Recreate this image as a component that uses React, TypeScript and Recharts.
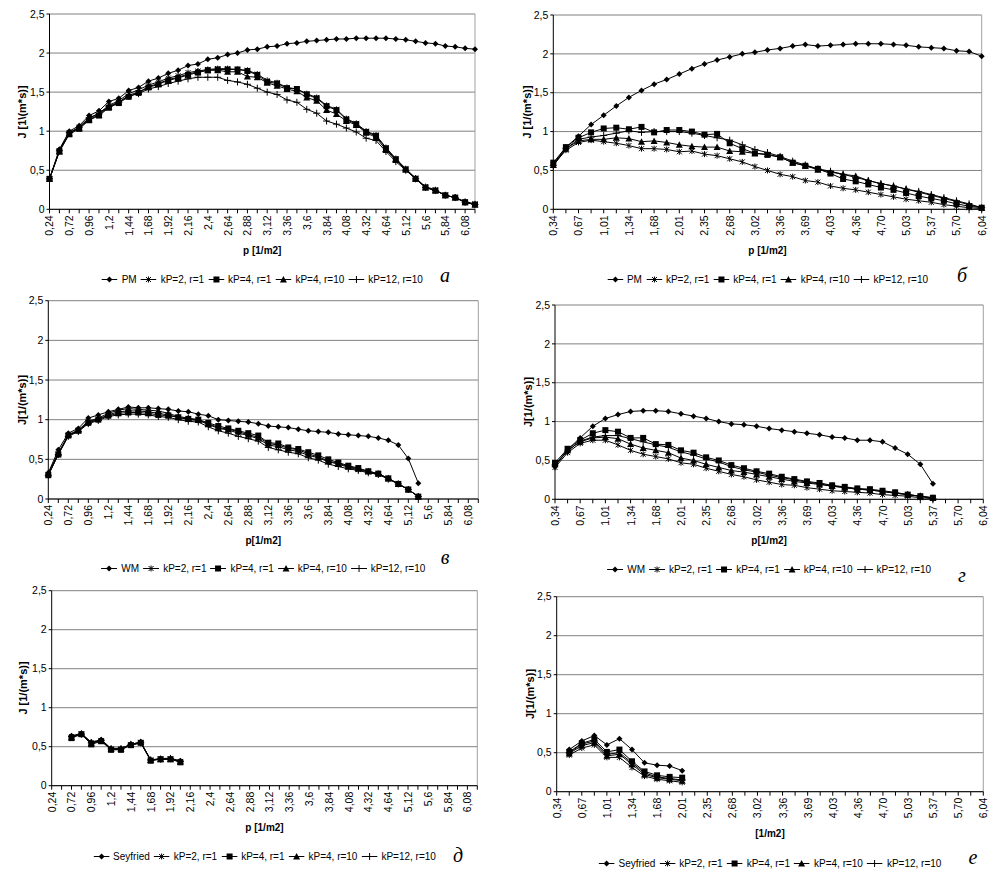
import React from "react";
import { LineChart, Line, XAxis, YAxis, CartesianGrid, ReferenceLine } from "recharts";

// category labels (every second category is unlabeled, as in the source)
const ticksWide = ["0,24","","0,72","","0,96","","1,2","","1,44","","1,68","","1,92","","2,16","","2,4","","2,64","","2,88","","3,12","","3,36","","3,6","","3,84","","4,08","","4,32","","4,64","","5,12","","5,6","","5,84","","6,08",""];
const ticksNarrow = ["0,34","","0,67","","1,01","","1,34","","1,68","","2,01","","2,35","","2,68","","3,02","","3,36","","3,69","","4,03","","4,36","","4,70","","5,03","","5,37","","5,70","","6,04"];
const yTicks = [0, 0.5, 1, 1.5, 2, 2.5];

const kpNames = ["kP=2, r=1", "kP=4, r=1", "kP=4, r=10", "kP=12, r=10"];

// а — PM
const pmA = [0.39,0.77,1.0,1.07,1.2,1.26,1.38,1.42,1.52,1.56,1.64,1.68,1.74,1.78,1.84,1.86,1.92,1.94,1.98,2.0,2.04,2.05,2.08,2.09,2.12,2.13,2.15,2.16,2.17,2.18,2.18,2.19,2.19,2.19,2.19,2.18,2.17,2.15,2.13,2.12,2.09,2.08,2.06,2.05];
const k2r1A = [0.39,0.75,0.98,1.05,1.17,1.23,1.33,1.39,1.48,1.53,1.59,1.63,1.68,1.71,1.75,1.77,1.79,1.8,1.8,1.79,1.78,1.73,1.65,1.62,1.56,1.54,1.48,1.43,1.33,1.28,1.16,1.1,1.0,0.95,0.79,0.65,0.52,0.4,0.29,0.25,0.18,0.15,0.1,0.07];
const k4r1A = [0.39,0.74,0.96,1.03,1.14,1.2,1.3,1.36,1.44,1.49,1.56,1.6,1.65,1.68,1.72,1.75,1.78,1.79,1.79,1.79,1.77,1.72,1.63,1.61,1.55,1.54,1.47,1.42,1.32,1.27,1.15,1.09,0.99,0.94,0.78,0.64,0.51,0.39,0.28,0.24,0.18,0.15,0.09,0.06];
const k4r10A = [0.39,0.74,0.97,1.04,1.15,1.21,1.31,1.37,1.46,1.5,1.57,1.61,1.66,1.69,1.73,1.76,1.78,1.78,1.76,1.76,1.7,1.69,1.62,1.58,1.54,1.51,1.43,1.39,1.27,1.22,1.13,1.08,0.98,0.92,0.76,0.63,0.51,0.39,0.28,0.24,0.18,0.15,0.09,0.06];
const k12r10A = [0.39,0.75,0.98,1.05,1.17,1.22,1.32,1.37,1.45,1.48,1.54,1.57,1.61,1.64,1.67,1.69,1.69,1.69,1.65,1.63,1.6,1.55,1.5,1.47,1.4,1.37,1.28,1.23,1.13,1.09,1.04,0.99,0.91,0.88,0.74,0.61,0.5,0.39,0.28,0.24,0.18,0.15,0.09,0.06];

// б — PM
const pmB = [0.58,0.8,0.94,1.09,1.21,1.33,1.44,1.53,1.61,1.67,1.74,1.81,1.87,1.92,1.96,2.0,2.02,2.05,2.07,2.1,2.12,2.1,2.11,2.12,2.13,2.13,2.13,2.12,2.11,2.09,2.08,2.07,2.04,2.03,1.97];
const k2r1B = [0.57,0.76,0.86,0.89,0.87,0.85,0.82,0.78,0.78,0.77,0.74,0.75,0.71,0.69,0.65,0.61,0.55,0.5,0.45,0.42,0.37,0.35,0.3,0.27,0.25,0.22,0.19,0.16,0.13,0.11,0.09,0.06,0.04,0.02,0.01];
const k4r1B = [0.6,0.8,0.92,0.99,1.04,1.05,1.03,1.06,0.99,1.02,1.02,1.0,0.96,0.97,0.85,0.78,0.72,0.7,0.67,0.6,0.56,0.52,0.46,0.39,0.36,0.32,0.28,0.25,0.21,0.17,0.14,0.11,0.07,0.04,0.02];
const k4r10B = [0.57,0.78,0.88,0.9,0.9,0.92,0.91,0.87,0.88,0.86,0.83,0.81,0.8,0.8,0.75,0.74,0.72,0.71,0.67,0.6,0.56,0.51,0.48,0.45,0.43,0.37,0.33,0.3,0.26,0.22,0.18,0.14,0.1,0.06,0.02];
const k12r10B = [0.56,0.78,0.9,0.93,0.95,0.98,1.01,0.99,1.0,1.0,1.0,0.98,0.95,0.92,0.89,0.83,0.77,0.73,0.68,0.62,0.57,0.52,0.49,0.45,0.41,0.37,0.33,0.3,0.26,0.23,0.19,0.15,0.11,0.07,0.02];

// в — WM
const wmC = [0.33,0.62,0.83,0.89,1.02,1.06,1.1,1.13,1.16,1.15,1.15,1.14,1.13,1.11,1.1,1.07,1.05,1.0,0.99,0.98,0.97,0.95,0.92,0.91,0.9,0.88,0.86,0.85,0.84,0.82,0.81,0.8,0.79,0.77,0.74,0.68,0.51,0.2];
const k2r1C = [0.31,0.57,0.8,0.86,0.97,1.01,1.06,1.1,1.11,1.11,1.1,1.08,1.06,1.03,1.0,0.99,0.94,0.89,0.87,0.83,0.8,0.76,0.68,0.66,0.62,0.6,0.55,0.52,0.47,0.44,0.4,0.37,0.34,0.31,0.26,0.19,0.12,0.03];
const k4r1C = [0.3,0.56,0.8,0.86,0.96,1.0,1.05,1.08,1.09,1.09,1.08,1.06,1.05,1.03,1.01,1.0,0.96,0.92,0.89,0.86,0.83,0.8,0.71,0.7,0.65,0.63,0.59,0.55,0.5,0.46,0.42,0.39,0.35,0.32,0.26,0.19,0.12,0.03];
const k4r10C = [0.32,0.58,0.81,0.87,0.98,1.02,1.08,1.12,1.14,1.13,1.12,1.11,1.08,1.04,1.02,1.0,0.95,0.9,0.88,0.85,0.81,0.78,0.7,0.68,0.64,0.62,0.57,0.53,0.48,0.45,0.41,0.38,0.35,0.32,0.26,0.19,0.12,0.03];
const k12r10C = [0.3,0.56,0.79,0.85,0.95,0.99,1.04,1.06,1.07,1.07,1.06,1.04,1.03,1.0,0.98,0.97,0.91,0.86,0.83,0.79,0.76,0.73,0.65,0.62,0.59,0.57,0.52,0.49,0.44,0.41,0.38,0.36,0.33,0.31,0.25,0.19,0.12,0.03];

// г — WM
const wmD = [0.42,0.64,0.79,0.94,1.04,1.09,1.13,1.14,1.14,1.13,1.1,1.07,1.04,1.0,0.97,0.96,0.94,0.91,0.89,0.87,0.85,0.83,0.8,0.79,0.76,0.76,0.74,0.66,0.58,0.45,0.2];
const k2r1D = [0.41,0.6,0.72,0.76,0.76,0.7,0.63,0.58,0.55,0.52,0.47,0.45,0.4,0.36,0.32,0.29,0.25,0.22,0.19,0.18,0.15,0.13,0.11,0.1,0.09,0.08,0.06,0.05,0.04,0.02,0.01];
const k4r1D = [0.47,0.65,0.76,0.85,0.89,0.87,0.79,0.79,0.71,0.7,0.63,0.6,0.54,0.5,0.44,0.4,0.36,0.33,0.29,0.26,0.23,0.21,0.18,0.16,0.14,0.13,0.11,0.09,0.06,0.04,0.02];
const k4r10D = [0.45,0.63,0.74,0.79,0.8,0.78,0.71,0.66,0.63,0.6,0.53,0.5,0.45,0.41,0.37,0.35,0.32,0.29,0.26,0.23,0.21,0.19,0.17,0.15,0.13,0.12,0.1,0.08,0.06,0.04,0.02];
const k12r10D = [0.44,0.62,0.75,0.8,0.82,0.82,0.78,0.74,0.7,0.67,0.61,0.57,0.52,0.48,0.42,0.38,0.35,0.31,0.28,0.25,0.22,0.2,0.17,0.15,0.13,0.12,0.1,0.08,0.06,0.04,0.01];

// д — Seyfried
const seyE = [null,null,0.64,0.67,0.56,0.59,0.48,0.48,0.53,0.56,0.33,0.35,0.35,0.32];
const k2r1E = [null,null,0.63,0.66,0.55,0.58,0.47,0.47,0.52,0.55,0.33,0.34,0.34,0.31];
const k4r1E = [null,null,0.61,0.66,0.53,0.57,0.46,0.46,0.52,0.55,0.32,0.34,0.34,0.3];
const k4r10E = [null,null,0.62,0.67,0.54,0.58,0.47,0.47,0.53,0.56,0.33,0.34,0.34,0.31];
const k12r10E = [null,null,0.63,0.66,0.55,0.58,0.47,0.47,0.53,0.55,0.33,0.34,0.35,0.31];

// е — Seyfried
const seyF = [null,0.54,0.65,0.72,0.6,0.68,0.54,0.37,0.34,0.33,0.27];
const k2r1F = [null,0.47,0.56,0.6,0.44,0.44,0.31,0.2,0.16,0.14,0.12];
const k4r1F = [null,0.51,0.62,0.67,0.51,0.54,0.39,0.26,0.21,0.19,0.18];
const k4r10F = [null,0.49,0.59,0.63,0.46,0.48,0.35,0.22,0.18,0.16,0.14];
const k12r10F = [null,0.5,0.61,0.65,0.48,0.5,0.37,0.24,0.19,0.17,0.15];

const markerKinds = ["diamond", "asterisk", "square", "triangle", "plus"];

function marker(kind: string, cx: number, cy: number, key?: string) {
  switch (kind) {
    case "diamond":
      return <polygon key={key} points={`${cx},${cy - 3} ${cx + 3},${cy} ${cx},${cy + 3} ${cx - 3},${cy}`} fill="#000" />;
    case "asterisk":
      return (
        <g key={key} stroke="#000" strokeWidth={1}>
          <line x1={cx - 2.5} y1={cy - 2.5} x2={cx + 2.5} y2={cy + 2.5} />
          <line x1={cx - 2.5} y1={cy + 2.5} x2={cx + 2.5} y2={cy - 2.5} />
          <line x1={cx} y1={cy - 3} x2={cx} y2={cy + 3} />
        </g>
      );
    case "square":
      return <rect key={key} x={cx - 3} y={cy - 3} width={6} height={6} fill="#000" />;
    case "triangle":
      return <polygon key={key} points={`${cx},${cy - 3.5} ${cx + 3.5},${cy + 3} ${cx - 3.5},${cy + 3}`} fill="#000" />;
    default:
      return (
        <g key={key} stroke="#000" strokeWidth={1}>
          <line x1={cx - 3.5} y1={cy} x2={cx + 3.5} y2={cy} />
          <line x1={cx} y1={cy - 3.5} x2={cx} y2={cy + 3.5} />
        </g>
      );
  }
}

const panels = [
  { id: "a", names: ["PM", ...kpNames], series: [pmA, k2r1A, k4r1A, k4r10A, k12r10A], ticks: ticksWide, yTitle: "J [1\\(m*s)]", xTitle: "p [1/m2]", caption: "а", x0: 0, y0: 0, plot: [49.5, 14, 475, 209.3], yTitleX: 22, legendY: 279, cap: [445, 275] },
  { id: "b", names: ["PM", ...kpNames], series: [pmB, k2r1B, k4r1B, k4r10B, k12r10B], ticks: ticksNarrow, yTitle: "J [1/(m*s)]", xTitle: "p [1/m2]", caption: "б", x0: 500, y0: 0, plot: [553.3, 15, 981.7, 209.3], yTitleX: 527, legendY: 279, cap: [962, 275] },
  { id: "c", names: ["WM", ...kpNames], series: [wmC, k2r1C, k4r1C, k4r10C, k12r10C], ticks: ticksWide, yTitle: "J[1/(m*s)]", xTitle: "p[1/m2]", caption: "в", x0: 0, y0: 290, plot: [48.3, 300.7, 478.3, 499], yTitleX: 22, legendY: 568, cap: [445, 557] },
  { id: "d", names: ["WM", ...kpNames], series: [wmD, k2r1D, k4r1D, k4r10D, k12r10D], ticks: ticksNarrow, yTitle: "J[1/(m*s)]", xTitle: "p[1/m2]", caption: "г", x0: 500, y0: 290, plot: [555, 305, 983.3, 499.3], yTitleX: 528, legendY: 569, cap: [962, 575] },
  { id: "e", names: ["Seyfried", ...kpNames], series: [seyE, k2r1E, k4r1E, k4r10E, k12r10E], ticks: ticksWide, yTitle: "J [1/(m*s)]", xTitle: "p [1/m2]", caption: "д", x0: 0, y0: 580, plot: [51.7, 590.7, 477.3, 785.7], yTitleX: 23, legendY: 856, cap: [458, 855] },
  { id: "f", names: ["Seyfried", ...kpNames], series: [seyF, k2r1F, k4r1F, k4r10F, k12r10F], ticks: ticksNarrow, yTitle: "J[1/(m*s)]", xTitle: "[1/m2]", caption: "е", x0: 500, y0: 580, plot: [556.7, 596.7, 983.3, 791.7], yTitleX: 530, legendY: 863, cap: [973, 857] },
];

const Y_W = 40;
const X_H = 40;
const CH_H = 262;

function XTick(props: any) {
  const { x, y, payload, labels } = props;
  const text = labels[payload.value];
  if (!text) return <g />;
  return (
    <text x={x} y={y} transform={`rotate(-90 ${x} ${y})`} textAnchor="end" dominantBaseline="central" fontSize={10.5} fill="#000">
      {text}
    </text>
  );
}

function Panel({ p }: { p: (typeof panels)[number] }) {
  const [l, t, r, b] = p.plot;
  const w = p.x0 === 0 ? 500 : 503;
  const margin = { top: t - p.y0, left: l - p.x0 - Y_W, right: p.x0 + w - r, bottom: p.y0 + CH_H - b - X_H };
  const data = p.ticks.map((_, i) => {
    const row: any = { i };
    p.series.forEach((s, k) => {
      row[`s${k}`] = s[i] ?? null;
    });
    return row;
  });
  const cx = (l + r) / 2;
  const cy = (t + b) / 2;

  return (
    <>
      <div style={{ position: "absolute", left: p.x0, top: p.y0 }}>
        <LineChart width={w} height={CH_H} data={data} margin={margin}>
          <CartesianGrid vertical={false} stroke="#808080" />
          <ReferenceLine x={p.ticks.length - 1} stroke="#a0a0a0" />
          <XAxis
            dataKey="i"
            type="category"
            interval={0}
            height={X_H}
            tickSize={4}
            tickMargin={2}
            axisLine={{ stroke: "#000" }}
            tickLine={{ stroke: "#000" }}
            tick={(tp: any) => <XTick {...tp} labels={p.ticks} />}
          />
          <YAxis
            type="number"
            domain={[0, 2.5]}
            ticks={yTicks}
            width={Y_W}
            tickSize={3}
            tickMargin={2}
            axisLine={{ stroke: "#000" }}
            tickLine={{ stroke: "#000" }}
            tick={{ fontSize: 10.5, fill: "#000" }}
            tickFormatter={(v: number) => String(v).replace(".", ",")}
          />
          {p.series.map((_, k) => (
            <Line
              key={k}
              dataKey={`s${k}`}
              stroke="#000"
              strokeWidth={1}
              connectNulls={false}
              isAnimationActive={false}
              activeDot={false}
              dot={(dp: any) =>
                dp.cx == null || dp.cy == null || dp.value == null
                  ? <g key={`${k}-${dp.index}`} />
                  : marker(markerKinds[k], dp.cx, dp.cy, `${k}-${dp.index}`)
              }
            />
          ))}
        </LineChart>
      </div>

      {/* axis titles */}
      <div style={{ position: "absolute", left: p.yTitleX, top: cy, transform: "translate(-50%, -50%) rotate(-90deg)", fontSize: 11, fontWeight: "bold", whiteSpace: "nowrap" }}>
        {p.yTitle}
      </div>
      <div style={{ position: "absolute", left: cx, top: b + 41, transform: "translate(-50%, -50%)", fontSize: 10, fontWeight: "bold", whiteSpace: "nowrap" }}>
        {p.xTitle}
      </div>

      {/* legend */}
      <div style={{ position: "absolute", left: cx, top: p.legendY, transform: "translate(-50%, -50%)", display: "flex", alignItems: "center", whiteSpace: "nowrap", fontSize: 10 }}>
        {p.names.map((n, k) => (
          <span key={n} style={{ display: "flex", alignItems: "center", marginLeft: k === 0 ? 0 : 4 }}>
            <svg width={16} height={10}>
              <line x1={0} y1={5} x2={16} y2={5} stroke="#000" strokeWidth={1} />
              {marker(markerKinds[k], 8, 5)}
            </svg>
            <span style={{ marginLeft: 4 }}>{n}</span>
          </span>
        ))}
      </div>

      {/* panel letter */}
      <div style={{ position: "absolute", left: p.cap[0], top: p.cap[1], transform: "translate(-50%, -50%)", fontFamily: "'Liberation Serif', 'DejaVu Serif', serif", fontStyle: "italic", fontSize: 20 }}>
        {p.caption}
      </div>
    </>
  );
}

export default function App() {
  return (
    <div style={{ position: "absolute", left: 0, top: 0, width: 1003, height: 882, background: "#fff", fontFamily: "'Liberation Sans', Arial, sans-serif", color: "#000" }}>
      {panels.map((p) => (
        <Panel key={p.id} p={p} />
      ))}
    </div>
  );
}
